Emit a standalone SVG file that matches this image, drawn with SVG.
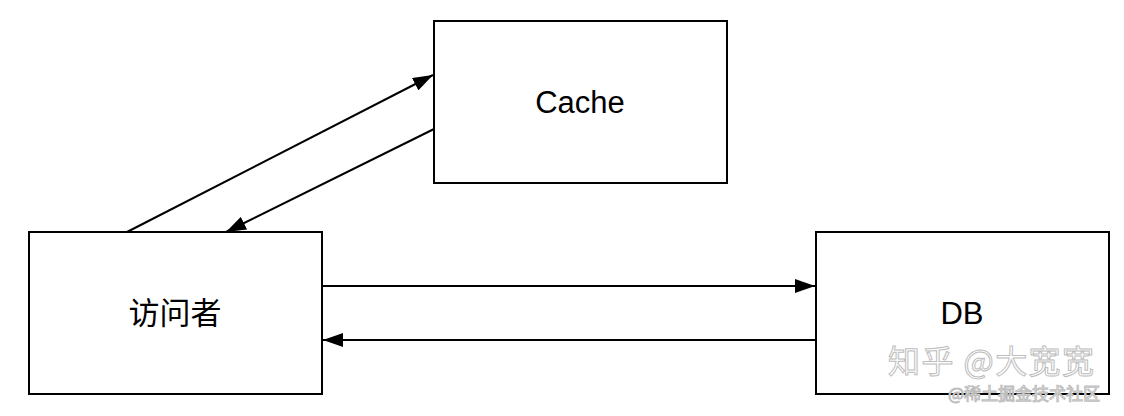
<svg xmlns="http://www.w3.org/2000/svg" width="1124" height="416" viewBox="0 0 1124 416">
<style>
.box{fill:#fff;stroke:#000;stroke-width:2}
.lbl{font-family:"Liberation Sans","Noto Sans CJK SC",sans-serif;font-size:31px;fill:#000;text-anchor:middle;dominant-baseline:central}
.edge{stroke:#000;stroke-width:2;fill:none}
.wm{font-family:"Noto Sans CJK SC",sans-serif;fill:#fff;stroke:#bdbdbd;stroke-width:1}
</style>
<defs>
<marker id="ah" viewBox="0 0 20 14" refX="20" refY="7" markerWidth="20" markerHeight="14" markerUnits="userSpaceOnUse" orient="auto">
<path d="M0,0 L20,7 L0,14 Z" fill="#000"/>
</marker>
</defs>
<rect width="1124" height="416" fill="#fff"/>
<g id="cache"><rect class="box" x="434" y="21" width="293" height="162"/><text class="lbl" x="580" y="102">Cache</text></g>
<g id="visitor"><rect class="box" x="29" y="232" width="293" height="162"/><text class="lbl" x="175" y="313">访问者</text></g>
<g id="db"><rect class="box" x="816" y="232" width="293" height="162"/><text class="lbl" x="962" y="313">DB</text></g>
<g id="connectors">
<line class="edge" x1="127" y1="232" x2="433" y2="75" marker-end="url(#ah)"/>
<line class="edge" x1="434" y1="129" x2="226" y2="232" marker-end="url(#ah)"/>
<line class="edge" x1="322" y1="286" x2="815" y2="286" marker-end="url(#ah)"/>
<line class="edge" x1="816" y1="340" x2="323" y2="340" marker-end="url(#ah)"/>
</g>
<g id="watermark">
<text class="wm" x="888" y="373" font-size="32" textLength="206">知乎 @大宽宽</text>
<text class="wm" x="948" y="400" font-size="17" stroke-width="0.6">@稀土掘金技术社区</text>
</g>
</svg>
